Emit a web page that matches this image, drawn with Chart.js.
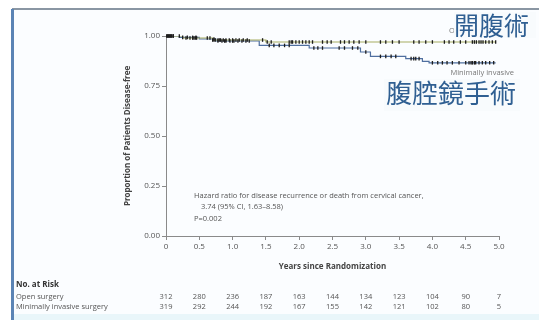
<!DOCTYPE html>
<html><head><meta charset="utf-8">
<script src="https://cdn.jsdelivr.net/npm/chart.js@4/dist/chart.umd.min.js"></script>
<style>html,body{margin:0;padding:0;background:#fff}canvas{display:block}</style>
</head><body>
<canvas id="c" width="539" height="320"></canvas>
<script>
const xTicks = [0, 0.5, 1, 1.5, 2, 2.5, 3, 3.5, 4, 4.5, 5];
const xTickLabels = ["0", "0.5", "1.0", "1.5", "2.0", "2.5", "3.0", "3.5", "4.0", "4.5", "5.0"];
const yTicks = [0, 0.25, 0.5, 0.75, 1];
const yTickLabels = ["0.00", "0.25", "0.50", "0.75", "1.00"];

const openTimes = [0, 0.25, 0.7, 1.5, 4.95];
const openSurv  = [1.0, 0.99, 0.98, 0.97, 0.97];
const misTimes  = [0, 0.2, 0.5, 0.75, 1.4, 2.15, 2.92, 3.07, 3.6, 3.85, 3.95, 4.95];
const misSurv   = [1.0, 0.993, 0.985, 0.975, 0.953, 0.94, 0.92, 0.898, 0.887, 0.873, 0.866, 0.866];

const openCensor = [0.01,0.03,0.05,0.07,0.09,0.11,0.2,0.3,0.36,0.4,0.42,0.44,0.46,0.62,0.66,0.7,0.72,0.74,0.78,0.8,0.82,0.86,0.9,0.95,1.0,1.05,1.1,1.16,1.22,1.45,1.52,1.58,1.85,1.88,1.9,1.95,2.0,2.05,2.1,2.15,2.2,2.35,2.42,2.48,2.62,2.68,2.75,2.82,2.9,3.0,3.22,3.3,3.4,3.5,3.72,3.8,3.9,4.0,4.18,4.25,4.32,4.42,4.5,4.6,4.63,4.66,4.7,4.73,4.76,4.8,4.85,4.9,4.95];
const misCensor  = [0.02,0.04,0.06,0.08,0.11,0.25,0.32,0.4,0.45,0.72,0.78,0.84,0.88,0.9,0.96,1.0,1.02,1.08,1.14,1.2,1.25,1.55,1.62,1.7,1.78,1.85,2.22,2.28,2.35,2.6,2.68,2.8,2.88,3.0,3.22,3.3,3.38,3.45,3.68,3.72,3.75,3.8,4.0,4.08,4.15,4.22,4.3,4.4,4.5,4.55,4.58,4.6,4.63,4.65,4.7,4.75,4.8,4.86,4.92];

const riskTimes  = [0, 0.5, 1, 1.5, 2, 2.5, 3, 3.5, 4, 4.5, 5];
const openAtRisk = [312, 280, 236, 187, 163, 144, 134, 123, 104, 90, 7];
const misAtRisk  = [319, 292, 244, 192, 167, 155, 142, 121, 102, 80, 5];

function survAt(times, surv, t) {
  let s = surv[0];
  for (let i = 0; i < times.length; i++) { if (times[i] <= t) s = surv[i]; }
  return s;
}
const toPts = (xs, ys) => xs.map((x, i) => ({x, y: ys[i]}));

const FONT = "'Open Sans', 'Liberation Sans', sans-serif";
const CJK = "'Noto Sans CJK TC', 'Noto Sans CJK SC', sans-serif";

const overlay = {
  id: 'overlay',
  beforeDraw(chart) {
    const ctx = chart.ctx;
    ctx.save();
    ctx.fillStyle = '#ffffff';
    ctx.fillRect(0, 0, 539, 320);
    ctx.fillStyle = '#fbfdff';
    ctx.fillRect(12, 9, 527, 305);
    ctx.fillStyle = '#e9f6fa';
    ctx.fillRect(12, 314, 527, 6);
    ctx.fillStyle = '#8a96a3';
    ctx.fillRect(12, 8, 527, 2);
    ctx.fillStyle = '#5b84b5';
    ctx.fillRect(11, 9, 3, 311);
    ctx.restore();
  },
  afterDraw(chart) {
    const ctx = chart.ctx;
    const xs = chart.scales.x;
    const ca = chart.chartArea;
    ctx.save();
    ctx.fillStyle = '#444';
    ctx.font = "bold 8px " + FONT;
    ctx.textAlign = 'center';
    ctx.textBaseline = 'middle';
    ctx.save();
    ctx.translate(128, 136);
    ctx.rotate(-Math.PI / 2);
    ctx.fillText('Proportion of Patients Disease-free', 0, 0);
    ctx.restore();
    ctx.fillText('Years since Randomization', (ca.left + ca.right) / 2, 267);
    ctx.font = "7.5px " + FONT;
    ctx.fillStyle = '#555';
    ctx.textAlign = 'left';
    ctx.fillText('Hazard ratio for disease recurrence or death from cervical cancer,', 194, 196);
    ctx.fillText('3.74 (95% CI, 1.63\u20138.58)', 201, 207);
    ctx.fillText('P=0.002', 194, 219);
    ctx.fillStyle = '#333';
    ctx.font = "bold 8px " + FONT;
    ctx.fillText('No. at Risk', 16, 285);
    ctx.font = "7.5px " + FONT;
    ctx.fillStyle = '#555';
    ctx.fillText('Open surgery', 16, 297);
    ctx.fillText('Minimally invasive surgery', 16, 307);
    ctx.textAlign = 'center';
    riskTimes.forEach((t, i) => {
      const px = xs.getPixelForValue(t);
      ctx.fillText(String(openAtRisk[i]), px, 297);
      ctx.fillText(String(misAtRisk[i]), px, 307);
    });
    ctx.textAlign = 'right';
    ctx.fillStyle = '#777';
    ctx.font = "7.5px " + FONT;
    ctx.fillText('Minimally invasive', 514, 73);
    ctx.textAlign = 'left';
    ctx.fillText('Open surgery', 449, 31);
    ctx.fillStyle = 'rgba(248,251,253,0.97)';
    ctx.fillRect(454, 12, 82, 26);
    ctx.fillRect(384, 79, 136, 32);
    ctx.fillStyle = '#2f5f92';
    ctx.font = "400 25px " + CJK;
    ctx.fillText('\u958B\u8179\u8853', 454, 25);
    ctx.font = "400 26px " + CJK;
    ctx.fillText('\u8179\u8154\u93E1\u624B\u8853', 386, 93);
    ctx.restore();
  }
};

new Chart(document.getElementById('c'), {
  type: 'scatter',
  data: {
    datasets: [
      { label: 'Open surgery', data: toPts(openTimes, openSurv), showLine: true, stepped: 'before',
        borderColor: '#a7ad62', borderWidth: 1.2, pointRadius: 0, order: 2 },
      { label: 'Minimally invasive surgery', data: toPts(misTimes, misSurv), showLine: true, stepped: 'before',
        borderColor: '#4f6f9f', borderWidth: 1.2, pointRadius: 0, order: 2 },
      { label: 'Open censored', data: openCensor.map(t => ({x: t, y: survAt(openTimes, openSurv, t)})),
        pointStyle: 'line', rotation: 90, pointRadius: 1.8, borderColor: '#1e1e1e', borderWidth: 1.3, clip: false, order: 1 },
      { label: 'MIS censored', data: misCensor.map(t => ({x: t, y: survAt(misTimes, misSurv, t)})),
        pointStyle: 'line', rotation: 90, pointRadius: 1.8, borderColor: '#1e1e1e', borderWidth: 1.3, clip: false, order: 1 }
    ]
  },
  options: {
    responsive: false,
    devicePixelRatio: 1,
    animation: false,
    layout: { padding: { left: 0, top: 36, right: 40, bottom: 0 } },
    plugins: { legend: { display: false }, tooltip: { enabled: false } },
    scales: {
      x: {
        type: 'linear', min: 0, max: 5,
        afterBuildTicks: s => { s.ticks = xTicks.map(v => ({value: v})); },
        afterFit: s => { s.height = 84; },
        ticks: { callback: (v, i) => xTickLabels[i], color: '#555', font: { size: 8, family: FONT }, padding: 2, maxRotation: 0, autoSkip: false },
        grid: { drawOnChartArea: false, drawTicks: true, tickLength: 4, color: '#8a8a8a' },
        border: { color: '#8a8a8a', width: 1 }
      },
      y: {
        type: 'linear', min: 0, max: 1,
        afterBuildTicks: s => { s.ticks = yTicks.map(v => ({value: v})); },
        afterFit: s => { s.width = 166; },
        ticks: { callback: (v, i) => yTickLabels[i], color: '#555', font: { size: 8, family: FONT }, padding: 2, autoSkip: false },
        grid: { drawOnChartArea: false, drawTicks: true, tickLength: 4, color: '#8a8a8a' },
        border: { color: '#8a8a8a', width: 1 }
      }
    }
  },
  plugins: [overlay]
});
</script>
</body></html>
